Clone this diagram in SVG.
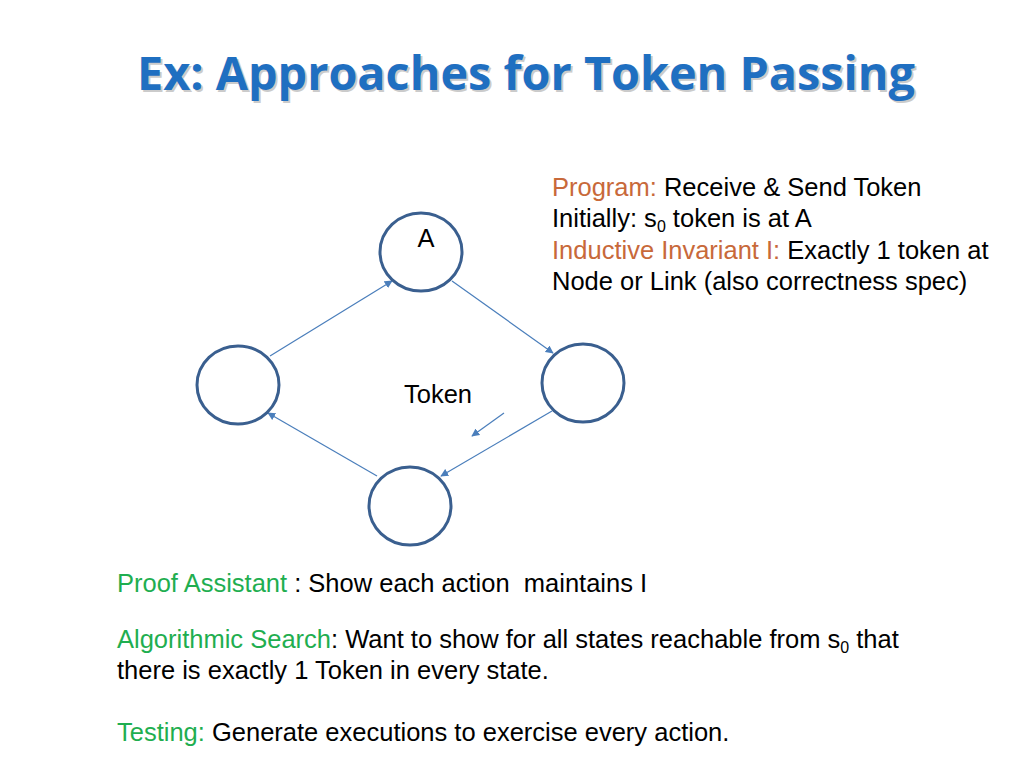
<svg xmlns="http://www.w3.org/2000/svg" width="1024" height="768" viewBox="0 0 1024 768">
<style>
.n{fill:none;stroke:#3a5f8f;stroke-width:3}
.c{stroke:#4a7ebb;stroke-width:1.2;fill:none;marker-end:url(#ah)}
.t{font-family:"Liberation Sans",Arial,sans-serif;font-size:25.5px;fill:#000}
.o{fill:#c8693a}.g{fill:#1fae50}
.h{font-family:'Open Sans','Noto Sans',sans-serif;font-weight:bold;font-size:46px}
</style>
<defs><marker id="ah" viewBox="0 0 10 10" refX="9" refY="5" markerWidth="8" markerHeight="8" orient="auto" markerUnits="userSpaceOnUse"><path d="M0,0L10,5L0,10z" fill="#4a7ebb"/></marker></defs>
<rect width="1024" height="768" fill="#fff"/>
<text class="h" x="526" y="90" text-anchor="middle" textLength="778" lengthAdjust="spacingAndGlyphs" fill="#aaa" opacity="0.6" transform="translate(2,2)">Ex: Approaches for Token Passing</text>
<text class="h" x="526" y="90" text-anchor="middle" textLength="778" lengthAdjust="spacingAndGlyphs" fill="#1f6fc1">Ex: Approaches for Token Passing</text>
<g id="connectors">
<line class="c" x1="270" y1="356" x2="392" y2="281"/>
<line class="c" x1="452" y1="281" x2="553" y2="353"/>
<line class="c" x1="552" y1="411" x2="441" y2="476"/>
<line class="c" x1="377" y1="476" x2="268" y2="413"/>
<line class="c" x1="504" y1="413" x2="472" y2="436"/>
</g>
<g id="nodeA"><ellipse class="n" cx="421" cy="252" rx="41" ry="39"/><text class="t" x="426" y="247" text-anchor="middle">A</text></g>
<g id="nodeL"><ellipse class="n" cx="238" cy="385" rx="41" ry="39"/></g>
<g id="nodeR"><ellipse class="n" cx="583" cy="383" rx="41" ry="39"/></g>
<g id="nodeB"><ellipse class="n" cx="410" cy="506" rx="41" ry="39"/></g>
<text class="t" x="438" y="403" text-anchor="middle">Token</text>
<text class="t" x="552" y="196"><tspan class="o">Program: </tspan>Receive &amp; Send Token</text>
<text class="t" x="552" y="227">Initially: s<tspan font-size="16" dy="5">0</tspan><tspan dy="-5"> token is at A</tspan></text>
<text class="t" x="552" y="259"><tspan class="o">Inductive Invariant I: </tspan>Exactly 1 token at</text>
<text class="t" x="552" y="290">Node or Link (also correctness spec)</text>
<text class="t" x="117" y="592" xml:space="preserve"><tspan class="g">Proof Assistant </tspan>: Show each action  maintains I</text>
<text class="t" x="117" y="648"><tspan class="g">Algorithmic Search</tspan>: Want to show for all states reachable from s<tspan font-size="16" dy="5">0</tspan><tspan dy="-5"> that</tspan></text>
<text class="t" x="117" y="679">there is exactly 1 Token in every state.</text>
<text class="t" x="117" y="741"><tspan class="g">Testing: </tspan>Generate executions to exercise every action.</text>
</svg>
